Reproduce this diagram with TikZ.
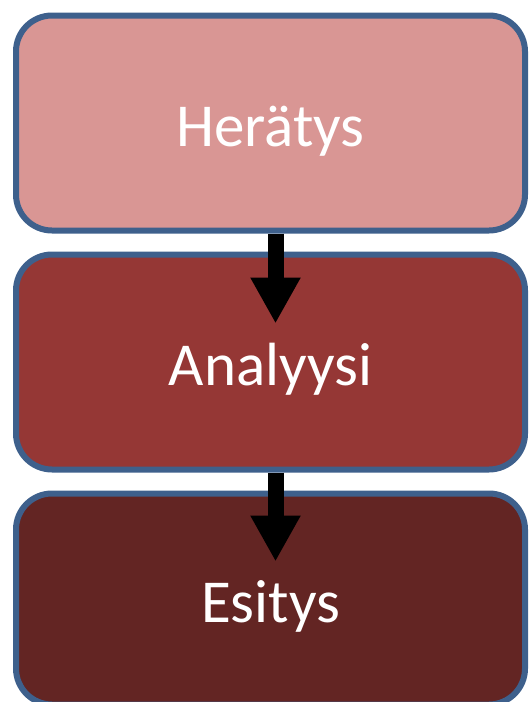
\documentclass[tikz,border=0pt]{standalone}
\usepackage{fontspec}
\setmainfont{Carlito}
\usepackage{xcolor}
\usetikzlibrary{arrows.meta,positioning}

\definecolor{rimblue}{RGB}{62,96,140}
\definecolor{stageone}{RGB}{217,150,148}
\definecolor{stagetwo}{RGB}{149,55,53}
\definecolor{stagethree}{RGB}{99,37,35}

\begin{document}
\begin{tikzpicture}[
    font=\fontsize{61}{72}\selectfont,
    node distance=18pt,
    stagebox/.style={draw=rimblue, line width=6pt, rounded corners=36pt, text=white, minimum width=509pt, minimum height=215pt, inner sep=0pt, text height=46pt, text depth=0pt},
    flow/.style={draw=black, line width=16pt, -{Triangle[width=47pt,length=46pt]}}
]
\useasboundingbox (0,0) rectangle (530pt,-702pt);
\node[stagebox, fill=stageone] (heratys) at (270.5pt,-123pt) {Herätys};
\node[stagebox, fill=stagetwo, below=of heratys] (analyysi) {Analyysi};
\node[stagebox, fill=stagethree, below=of analyysi, minimum height=211pt] (esitys) {Esitys};
\draw[flow] ([xshift=5pt]heratys.south) -- ([xshift=5pt,yshift=-72pt]analyysi.north);
\draw[flow] ([xshift=5pt]analyysi.south) -- ([xshift=5pt,yshift=-71pt]esitys.north);
\end{tikzpicture}
\end{document}
